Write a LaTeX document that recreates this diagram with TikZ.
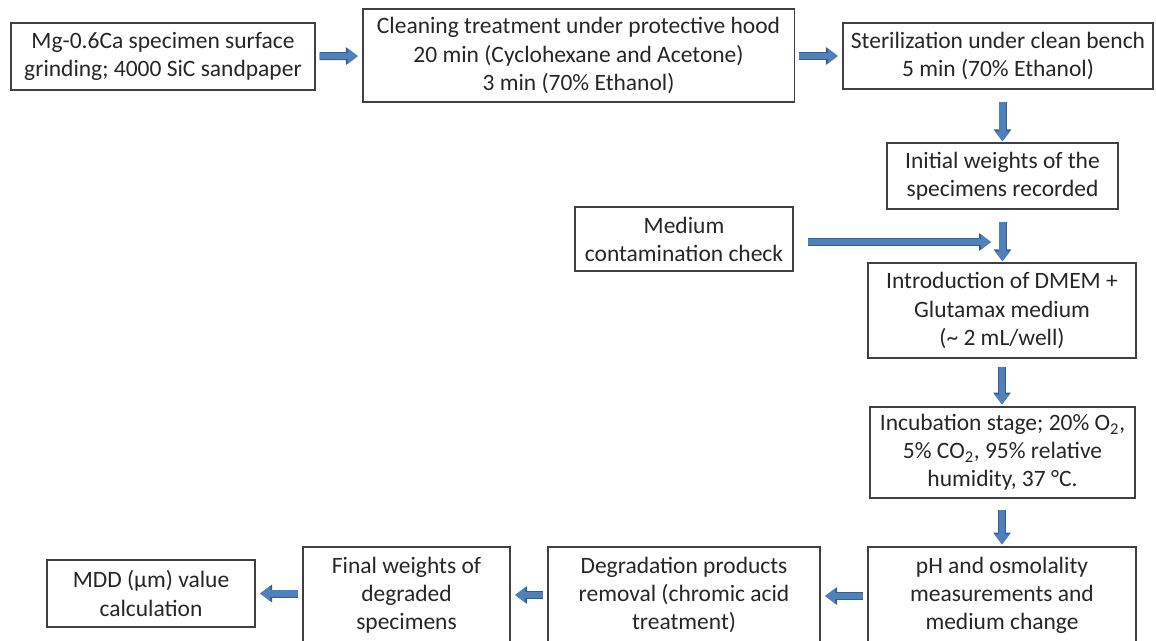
\documentclass[tikz,border=0pt]{standalone}
\usepackage{fontspec}
\setmainfont{Carlito}
\usetikzlibrary{arrows.meta}
\definecolor{boxline}{RGB}{64,64,64}
\definecolor{flowfill}{RGB}{79,129,189}
\definecolor{flowline}{RGB}{56,93,138}
\begin{document}
\begin{tikzpicture}[x=0.025cm,y=-0.025cm]
  \tikzstyle{every node}=[draw=boxline,line width=0.8pt,inner sep=0pt,align=center,
    font=\fontsize{16.7}{20}\selectfont,text=black!85]
  \tikzstyle{flow}=[draw=flowfill,line width=4.3pt,-{Triangle[length=7.1pt,width=10.3pt]},
    shorten <=2.8pt,shorten >=3.2pt,
    preaction={draw=flowline,line width=5.7pt,-{Triangle[length=8.5pt,width=12pt]}}]
  \useasboundingbox (0,0) rectangle (1156,640);
  \clip (0,0) rectangle (1156,640);

  \node[minimum width=7.6cm,minimum height=1.675cm] (grind) at (163,56.5)
    {Mg-0.6Ca specimen surface\\grinding; 4000 SiC sandpaper};
  \node[minimum width=10.775cm,minimum height=2.325cm] (clean) at (578.5,55.5)
    {Cleaning treatment under protective hood\\20 min (Cyclohexane and Acetone)\\3 min (70\% Ethanol)};
  \node[minimum width=7.75cm,minimum height=1.65cm] (steril) at (998,56)
    {Sterilization under clean bench\\5 min (70\% Ethanol)};
  \node[minimum width=5.775cm,minimum height=1.65cm] (weigh) at (1002.5,176)
    {Initial weights of the\\specimens recorded};
  \node[minimum width=5.45cm,minimum height=1.6cm] (check) at (684,239)
    {Medium\\contamination check};
  \node[minimum width=6.7cm,minimum height=2.375cm] (dmem) at (1002,310.5)
    {Introduction of DMEM +\\Glutamax medium\\(\textasciitilde\ 2 mL/well)};
  \node[minimum width=6.625cm,minimum height=2.275cm] (incub) at (1002.5,452.5)
    {Incubation stage; 20\% O\textsubscript{2},\\5\% CO\textsubscript{2}, 95\% relative\\humidity, 37 °C.};
  \node[minimum width=6.7cm,minimum height=2.4cm] (ph) at (1002,595)
    {pH and osmolality\\measurements and\\medium change};
  \node[minimum width=6.8cm,minimum height=2.4cm] (degr) at (684,595)
    {Degradation products\\removal (chromic acid\\treatment)};
  \node[minimum width=5.175cm,minimum height=2.4cm] (final) at (406.5,595)
    {Final weights of\\degraded\\specimens};
  \node[minimum width=5.2cm,minimum height=1.675cm] (mdd) at (151,593.5)
    {MDD (µm) value\\calculation};
  \coordinate (join) at (991,242);

  \draw[flow] (grind) -- (clean);
  \draw[flow] (clean.east |- steril) -- (steril);
  \draw[flow,shorten <=9pt,shorten >=0.8pt] (steril.south -| weigh) -- (weigh);
  \draw[flow,shorten <=9pt,shorten >=0.8pt] (weigh) -- (dmem.north -| weigh);
  \draw[flow,shorten <=10pt,shorten >=0pt] (check.east |- join) -- (join);
  \draw[flow,shorten <=6pt,shorten >=1.4pt] (dmem) -- (incub.north -| dmem);
  \draw[flow,shorten <=8pt,shorten >=1.4pt] (incub.south -| ph) -- (ph);
  \draw[flow] (ph.west |- 0,596) -- (degr.east |- 0,596);
  \draw[flow] (degr) -- (final);
  \draw[flow] (final.west |- mdd) -- (mdd);
\end{tikzpicture}
\end{document}
